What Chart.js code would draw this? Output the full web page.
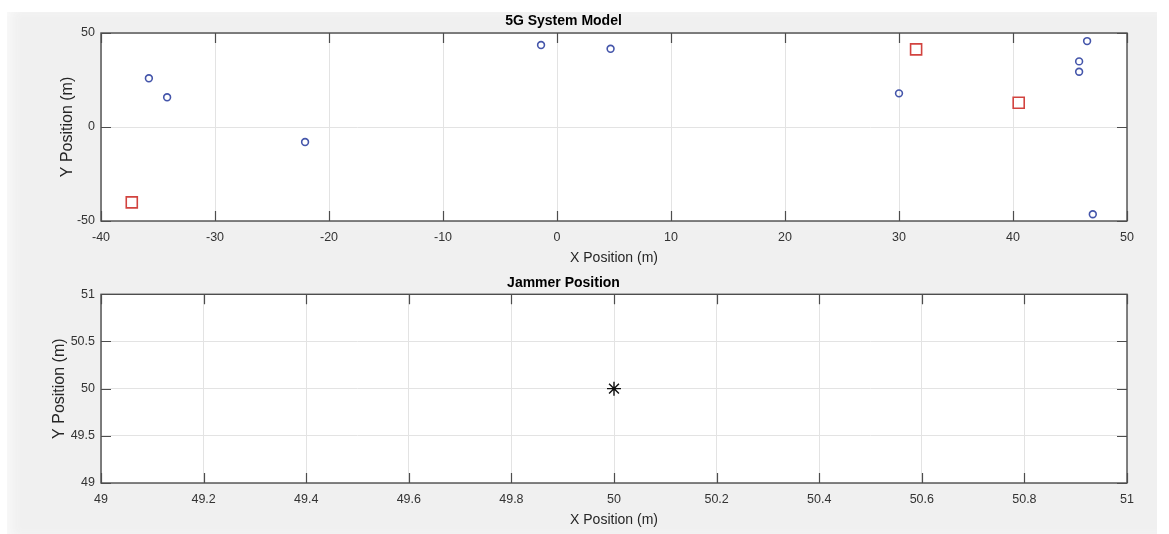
<!DOCTYPE html>
<html>
<head>
<meta charset="utf-8">
<script src="https://cdn.jsdelivr.net/npm/chart.js@4/dist/chart.umd.min.js"></script>
<style>
  html, body { margin: 0; padding: 0; background: #ffffff; }
  #wrap { position: relative; width: 1169px; height: 534px; overflow: hidden; }
  #fig { position: absolute; left: 7px; top: 12px; width: 1150px; height: 522px;
         background: #f0f0f0; box-shadow: inset 8px 0 12px -4px #fafafa; }
  canvas { position: absolute; left: 0; }
  #c1 { top: 0; }
  #c2 { top: 270px; }
</style>
</head>
<body>
<div id="wrap">
  <div id="fig"></div>
  <canvas id="c1" width="1169" height="270"></canvas>
  <canvas id="c2" width="1169" height="264"></canvas>
</div>
<script>
// ---- Data ----
const userX = [-35.8, -34.2, -22.1, -1.4, 4.7, 30.0, 46.5, 45.8, 45.8, 47.0];
const userY = [25.9, 15.8, -8.0, 43.6, 41.6, 17.9, 45.7, 34.9, 29.4, -46.4];
const bsX = [-37.3, 31.5, 40.5];
const bsY = [-40.1, 41.3, 12.9];
const jammerX = [50];
const jammerY = [50];

const topXTicks = [-40, -30, -20, -10, 0, 10, 20, 30, 40, 50];
const topYTicks = [-50, 0, 50];
const botXTicks = [49, 49.2, 49.4, 49.6, 49.8, 50, 50.2, 50.4, 50.6, 50.8, 51];
const botYTicks = [49, 49.5, 50, 50.5, 51];

const titles = ['5G System Model', 'Jammer Position'];
const xLabel = 'X Position (m)';
const yLabel = 'Y Position (m)';

// ---- Styling ----
const FONT = "'Liberation Sans', Arial, Helvetica, sans-serif";
const GRID = '#e3e3e3';
const AXIS = '#4d4d4d';

const axesBoxPlugin = {
  id: 'axesBox',
  beforeDraw(chart) {
    const a = chart.chartArea, ctx = chart.ctx;
    ctx.save();
    ctx.fillStyle = '#ffffff';
    ctx.fillRect(a.left, a.top, a.right - a.left, a.bottom - a.top);
    ctx.restore();
  },
  afterDatasetsDraw(chart) {
    const a = chart.chartArea, ctx = chart.ctx;
    const xs = chart.scales.x, ys = chart.scales.y;
    const L = 10;
    ctx.save();
    ctx.strokeStyle = AXIS;
    ctx.lineWidth = 1.2;
    ctx.beginPath();
    xs.ticks.forEach(t => {
      const px = Math.round(xs.getPixelForValue(t.value)) + 0.5;
      ctx.moveTo(px, a.bottom); ctx.lineTo(px, a.bottom - L);
      ctx.moveTo(px, a.top); ctx.lineTo(px, a.top + L);
    });
    ys.ticks.forEach(t => {
      const py = Math.round(ys.getPixelForValue(t.value)) + 0.5;
      ctx.moveTo(a.left, py); ctx.lineTo(a.left + L, py);
      ctx.moveTo(a.right, py); ctx.lineTo(a.right - L, py);
    });
    ctx.stroke();
    ctx.lineWidth = 1.4;
    ctx.strokeRect(a.left, a.top, a.right - a.left, a.bottom - a.top);
    ctx.restore();
  }
};

function fmt(v) { return String(parseFloat(Number(v).toFixed(2))); }

function makeChart(id, datasets, xT, yT, opts) {
  return new Chart(document.getElementById(id), {
    type: 'scatter',
    data: { datasets },
    plugins: [axesBoxPlugin],
    options: {
      responsive: false,
      animation: false,
      devicePixelRatio: 1,
      layout: { padding: { left: 0, top: 0, right: 42, bottom: 0 } },
      plugins: {
        legend: { display: false },
        tooltip: { enabled: false },
        title: {
          display: true,
          text: opts.title,
          color: '#000000',
          font: { family: FONT, size: 14, weight: 'bold', lineHeight: 1.2 },
          padding: { top: opts.titlePadTop, bottom: opts.titlePadBottom }
        }
      },
      scales: {
        x: {
          type: 'linear',
          min: xT[0], max: xT[xT.length - 1],
          afterBuildTicks: s => { s.ticks = xT.map(v => ({ value: v })); },
          afterFit: s => { s.height = opts.xHeight; },
          grid: { color: GRID, lineWidth: 1, drawTicks: false },
          border: { display: false },
          ticks: { color: '#333333', padding: 9, maxRotation: 0, autoSkip: false,
                   font: { family: FONT, size: 12.5 }, callback: v => fmt(v) },
          title: { display: true, text: xLabel, color: '#262626',
                   font: { family: FONT, size: 14, lineHeight: 1.2 },
                   padding: { top: 0, bottom: opts.xTitlePad } }
        },
        y: {
          type: 'linear',
          min: yT[0], max: yT[yT.length - 1],
          afterBuildTicks: s => { s.ticks = yT.map(v => ({ value: v })); },
          afterFit: s => { s.width = 101; },
          grid: { color: GRID, lineWidth: 1, drawTicks: false },
          border: { display: false },
          ticks: { color: '#333333', padding: 6, autoSkip: false,
                   font: { family: FONT, size: 12.5 }, callback: v => fmt(v) },
          title: { display: true, text: yLabel, color: '#262626',
                   font: { family: FONT, size: 16, lineHeight: 1.2 },
                   padding: { top: opts.yTitlePad, bottom: 0 } }
        }
      }
    }
  });
}

const toPts = (xs, ys) => xs.map((x, i) => ({ x, y: ys[i] }));

makeChart('c1', [
  { label: 'Users', data: toPts(userX, userY), pointStyle: 'circle', pointRadius: 3.4,
    pointBorderWidth: 1.6, borderColor: '#4455aa', backgroundColor: 'rgba(0,0,0,0)', showLine: false },
  { label: 'Base Stations', data: toPts(bsX, bsY), pointStyle: 'rect', pointRadius: 7.8,
    pointBorderWidth: 1.6, borderColor: '#d2433f', backgroundColor: 'rgba(0,0,0,0)', showLine: false }
], topXTicks, topYTicks, {
  title: titles[0], titlePadTop: 12.6, titlePadBottom: 3.6,
  xHeight: 49, xTitlePad: 3.6, yTitlePad: 58.4
});

makeChart('c2', [
  { label: 'Jammer', data: toPts(jammerX, jammerY), pointStyle: 'star', pointRadius: 7,
    pointBorderWidth: 1.4, borderColor: '#111111', backgroundColor: '#111111', showLine: false }
], botXTicks, botYTicks, {
  title: titles[1], titlePadTop: 4.3, titlePadBottom: 3.2,
  xHeight: 51, xTitlePad: 5.6, yTitlePad: 50.4
});
</script>
</body>
</html>
